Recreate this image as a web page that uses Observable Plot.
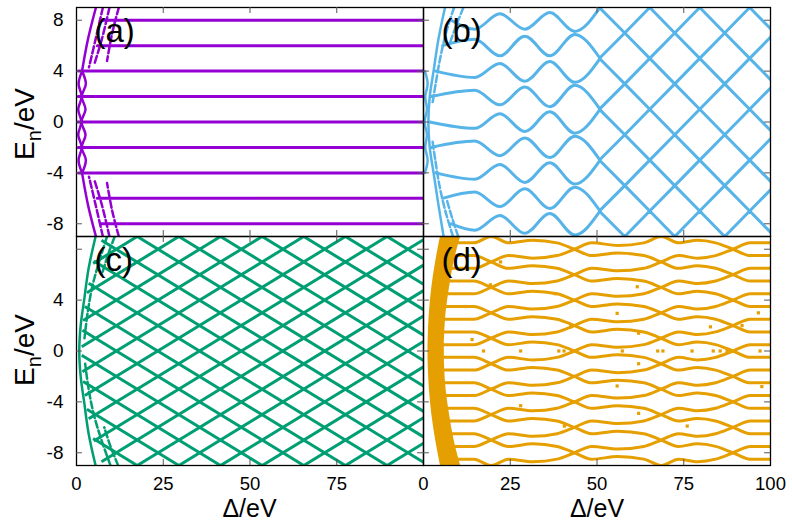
<!DOCTYPE html>
<html><head><meta charset="utf-8">
<script src="https://cdn.jsdelivr.net/npm/d3@7"></script>
<script src="https://cdn.jsdelivr.net/npm/@observablehq/plot@0.6"></script>
<style>
body{margin:0;background:#fff;}
#chart{width:792px;height:523px;}
</style></head><body><div id="chart"></div>
<script>
// ---------- colours ----------
const colors = {a:"#9400d3", b:"#56b4e9", c:"#009e73", d:"#e69f00"};
const P = {a:{fx:"L",fy:"T"}, b:{fx:"R",fy:"T"}, c:{fx:"L",fy:"B"}, d:{fx:"R",fy:"B"}};

// ---------- ticks ----------
const yTickMarks = [-8,-4,0,4,8];
const xTickMarks = [25,50,75];
const yTickLabelsTop = [8,4,0,-4,-8];
const yTickLabelsBottom = [4,0,-4,-8];
const xTickLabelsLeft = [0,25,50,75];
const xTickLabelsRight = [0,25,50,75,100];
const panelLabels = [["a","(a)"],["b","(b)"],["c","(c)"],["d","(d)"]];

// ---------- panel (a) ----------
const aLevels = [8,6,4,2,0,-2,-4,-6,-8];
const aStart  = [6.9,6.0,0.6,0.5,0.3,0.5,0.6,6.0,6.9];
const aEnd = 100;
const aArcsSolid = [
  [[5.6,9],[3.3,6.5],[1.6,4]],
  [[1.6,-4],[3.3,-6.5],[5.6,-9]],
  [[1.6,4],[0.6,3],[1.5,2],[0.5,1],[1.4,0],[0.5,-1],[1.5,-2],[0.6,-3],[1.6,-4]],
  [[1.6,4],[2.7,3],[1.5,2],[2.6,1],[1.4,0],[2.6,-1],[1.5,-2],[2.7,-3],[1.6,-4]]
];
const aArcsDashed = [
  [[7.6,9],[5.5,6.5],[3.6,4.3]],
  [[9.5,9],[7.3,6.5],[5.2,4.6]],
  [[12.2,9],[10.3,7],[8.8,4.8]],
  [[7.6,-9],[5.5,-6.5],[3.6,-4.3]],
  [[9.5,-9],[7.3,-6.5],[5.2,-4.6]],
  [[12.2,-9],[10.3,-7],[8.8,-4.8]]
];

// ---------- panel (b) ----------
const bStartDelta = [8,5.5,3.5,2.2,1.8,2.2,3.5,5.5,8];
const bKnots = [14.8,22,29.2,36.4,43.6,50.8];
const bWavy = [
  [8.0, 7.3, 8.5, 7.3, 8.6, 7.12, 8.97],
  [6.0, 6.5, 5.2, 6.75, 5.2, 6.88, 5.03],
  [4.0, 3.5, 4.6, 3.2, 4.75, 3.12, 4.97],
  [2.0, 2.5, 1.35, 2.75, 1.2, 2.88, 1.03],
  [0.0,-0.5, 0.65,-0.75, 0.8,-0.88, 0.97],
  [-2.0,-1.5,-2.65,-1.25,-2.8,-1.12,-2.97],
  [-4.0,-4.5,-3.35,-4.75,-3.2,-4.88,-3.03],
  [-6.0,-5.5,-6.65,-5.25,-6.8,-5.12,-6.97],
  [-8.0,-8.5,-7.35,-8.75,-7.2,-8.88,-7.03]
];
const bLatKnots = [50.8,58,65.2,72.4,79.6,86.8,94,101.2];
const bLattice = [
  [8.97,7,9,7,9,7,9,7],
  [5.03,7,5,7,5,7,5,7],
  [4.97,3,5,3,5,3,5,3],
  [1.03,3,1,3,1,3,1,3],
  [0.97,-1,1,-1,1,-1,1,-1],
  [-2.97,-1,-3,-1,-3,-1,-3,-1],
  [-3.03,-5,-3,-5,-3,-5,-3,-5],
  [-6.97,-5,-7,-5,-7,-5,-7,-5],
  [-7.03,-9,-7,-9,-7,-9,-7,-9]
];
const bArcsSolid = [
  [[6.2,9],[4.3,6.5],[2.9,4],[1.8,2],[1.4,0],[1.8,-2],[2.9,-4],[4.3,-6.5],[5.8,-9]],
  [[0.4,4],[1.2,3],[0.5,2],[1.0,1],[0.3,0],[1.0,-1],[0.5,-2],[1.2,-3],[0.4,-4]]
];
const bArcsDashed = [
  [[8.8,9],[6.5,7],[4.8,5],[3.5,3],[2.6,1.5]],
  [[8.5,-9],[6.3,-7],[4.6,-5],[3.4,-3],[2.6,-1.5]],
  [[11.5,9],[9.3,7.5],[7.6,6.2]],
  [[10,-9],[8.2,-7.5],[6.8,-6.2]]
];

// ---------- panel (c) : lattice segments [Δ1,E1,Δ2,E2] ----------
const cUp = [
  [17.5,-9,100,4.75],[29.5,-9,100,2.75],[41.5,-9,100,0.75],[53.5,-9,100,-1.25],
  [65.5,-9,100,-3.25],[77.5,-9,100,-5.25],[89.5,-9,100,-7.25],
  [7.2,-8.7,100,6.75],[5.0,-7.08,100,8.75],[3.5,-5.33,89.5,9],[2.4,-3.5,77.5,9],
  [1.7,-1.63,65.5,9],[1.5,0.33,53.5,9],[1.9,2.4,41.5,9],[3.0,4.58,29.5,9],[4.8,6.88,17.5,9]
];
const cDown = [
  [17.5,9,100,-4.75],[29.5,9,100,-2.75],[41.5,9,100,-0.75],[53.5,9,100,1.25],
  [65.5,9,100,3.25],[77.5,9,100,5.25],[89.5,9,100,7.25],
  [7.2,8.7,100,-6.75],[5.0,7.08,100,-8.75],[3.5,5.33,89.5,-9],[2.4,3.5,77.5,-9],
  [1.7,1.63,65.5,-9],[1.5,-0.33,53.5,-9],[1.9,-2.4,41.5,-9],[3.0,-4.58,29.5,-9],[4.8,-6.88,17.5,-9]
];
const cArcsSolid = [
  [[5.5,9],[3.5,6.5],[2.2,4],[1.2,2],[0.8,0],[1.2,-2],[2.2,-4],[3.5,-6.5],[5.5,-9]]
];
const cArcsDashed = [
  [[8.8,9],[6.5,7],[4.5,5],[3.2,3],[2.3,1]],
  [[9.8,-9],[7.2,-7],[5,-5],[3.5,-3],[2.5,-1]],
  [[11,9],[9,7.5],[7.3,6]],
  [[12,-9],[9.8,-7.5],[8,-6]]
];

// ---------- panel (d) ----------
const dKnots = [5,14.5,19.5,24.5,31.5,38.5,43.5,48.5,56,63.5,68.5,73.5,79,84.2,89.2,94.2,100];
const dStrands = [
  [7.5,7.5,7,6.5,6.7,6.5,6,5.5,5.7,5.5,5,4.5,4.7,4.5,4,3.5,3.5],
  [5.5,5.5,5,4.5,4.7,4.5,4,3.5,3.7,3.5,3,2.5,2.7,2.5,2,1.5,1.5],
  [3.5,3.5,3,2.5,2.7,2.5,2,1.5,1.7,1.5,1,0.5,0.7,0.5,0,-0.5,-0.5],
  [1.5,1.5,1,0.5,0.7,0.5,0,-0.5,-0.3,-0.5,-1,-1.5,-1.3,-1.5,-2,-2.5,-2.5],
  [-0.5,-0.5,-1,-1.5,-1.3,-1.5,-2,-2.5,-2.3,-2.5,-3,-3.5,-3.3,-3.5,-4,-4.5,-4.5],
  [-2.5,-2.5,-3,-3.5,-3.3,-3.5,-4,-4.5,-4.3,-4.5,-5,-5.5,-5.3,-5.5,-6,-6.5,-6.5],
  [-4.5,-4.5,-5,-5.5,-5.3,-5.5,-6,-6.5,-6.3,-6.5,-7,-7.5,-7.3,-7.5,-8,-8.5,-8.5],
  [-6.5,-6.5,-7,-7.5,-7.3,-7.5,-8,-8.5,-8.3,-8.5,-9,-8.5,-8.7,-8.5,-8,-7.5,-7.5],
  [-8.5,-8.5,-9,-8.5,-8.7,-8.5,-8,-7.5,-7.7,-7.5,-7,-6.5,-6.7,-6.5,-6,-5.5,-5.5],
  [8.5,8.5,9,8.5,8.7,8.5,8,7.5,7.7,7.5,7,6.5,6.7,6.5,6,5.5,5.5],
  [6.5,6.5,7,7.5,7.3,7.5,8,8.5,8.3,8.5,9,8.5,8.7,8.5,8,7.5,7.5],
  [4.5,4.5,5,5.5,5.3,5.5,6,6.5,6.3,6.5,7,7.5,7.3,7.5,8,8.5,8.5],
  [2.5,2.5,3,3.5,3.3,3.5,4,4.5,4.3,4.5,5,5.5,5.3,5.5,6,6.5,6.5],
  [0.5,0.5,1,1.5,1.3,1.5,2,2.5,2.3,2.5,3,3.5,3.3,3.5,4,4.5,4.5],
  [-1.5,-1.5,-1,-0.5,-0.7,-0.5,0,0.5,0.3,0.5,1,1.5,1.3,1.5,2,2.5,2.5],
  [-3.5,-3.5,-3,-2.5,-2.7,-2.5,-2,-1.5,-1.7,-1.5,-1,-0.5,-0.7,-0.5,0,0.5,0.5],
  [-5.5,-5.5,-5,-4.5,-4.7,-4.5,-4,-3.5,-3.7,-3.5,-3,-2.5,-2.7,-2.5,-2,-1.5,-1.5],
  [-7.5,-7.5,-7,-6.5,-6.7,-6.5,-6,-5.5,-5.7,-5.5,-5,-4.5,-4.7,-4.5,-4,-3.5,-3.5]
];
const dBandE     = [9,7,5,3,1,0,-1,-3,-5,-7,-9];
const dBandInner = [4.9,3.5,2.4,1.7,1.35,1.3,1.35,1.7,2.4,3.5,4.9];
const dBandOuter = [10.7,8.8,7.5,6.5,6.05,6,6.05,6.5,7.5,8.8,10.7];
const dSpecks = [
  [17.3,0],[28,0],[39,0],[40.5,0],[57.3,0],[67.5,0],[69,0],[77.4,0],[83.5,0],[85.5,0],[87.5,0],[97,0],
  [61.6,5.05],[55.8,2.96],[62,1.4],[62,-1.0],[55.8,-2.75],[62,-4.9],[96.5,3],[97.5,-2.8],
  [91.8,2.0],[82.7,1.9],[76,-5.9],[14,0.9],[19.3,5.2],[22.2,7.0],[42.4,1.9],[38,4.5],[28,-4.3],[40.6,-5.9]
];

// ---------- build tables ----------
function polyRows(panel, polys, tag) {
  const out = [];
  polys.forEach((pts, i) => pts.forEach(([x, y]) =>
    out.push({fx: P[panel].fx, fy: P[panel].fy, g: panel + tag + i, x, y})));
  return out;
}
const aLevelRows = polyRows("a", aLevels.map((e, i) => [[aStart[i], e], [aEnd, e]]), "lv");
const aSolidRows = polyRows("a", aArcsSolid, "s");
const aDashRows = polyRows("a", aArcsDashed, "d");
const bWavyRows = polyRows("b", bWavy.map((v, i) => [[bStartDelta[i], v[0]], ...bKnots.map((k, j) => [k, v[j + 1]])]), "w");
const bLatRows = polyRows("b", bLattice.map(v => bLatKnots.map((k, j) => [k, v[j]])), "l");
const bSolidRows = polyRows("b", bArcsSolid, "s");
const bDashRows = polyRows("b", bArcsDashed, "d");
const cSeg = [...cUp, ...cDown].map(([x1, y1, x2, y2]) => ({fx: "L", fy: "B", x1, y1, x2, y2}));
const cSolidRows = polyRows("c", cArcsSolid, "s");
const cDashRows = polyRows("c", cArcsDashed, "d");
const dStrandRows = polyRows("d", dStrands.map(v => dKnots.map((k, j) => [k, v[j]])), "st");
const dBand = dBandE.map((e, i) => ({fx: "R", fy: "B", y: e, x1: dBandInner[i], x2: dBandOuter[i]}));
const dSpeckRows = dSpecks.map(([x, y]) => ({fx: "R", fy: "B", x, y}));

const LW = 3;
const font = "Liberation Sans, Arial, Helvetica, sans-serif";
const fxF = d => d.fx, fyF = d => d.fy;

const svg = Plot.plot({
  width: 792, height: 523,
  marginLeft: 76, marginRight: 22, marginTop: 7, marginBottom: 58,
  style: {fontFamily: font, background: "white", color: "black"},
  x: {domain: [0, 100], axis: null},
  y: {domain: [-9, 9], axis: null},
  fx: {domain: ["L", "R"], padding: 0, axis: null},
  fy: {domain: ["T", "B"], padding: 0, axis: null},
  marks: [
    // panel a
    Plot.line(aLevelRows, {x: "x", y: "y", z: "g", fx: fxF, fy: fyF, stroke: colors.a, strokeWidth: LW, clip: true}),
    Plot.line(aSolidRows, {x: "x", y: "y", z: "g", fx: fxF, fy: fyF, stroke: colors.a, strokeWidth: 2.5, curve: "catmull-rom", clip: true}),
    Plot.line(aDashRows, {x: "x", y: "y", z: "g", fx: fxF, fy: fyF, stroke: colors.a, strokeWidth: 2.5, strokeDasharray: "7,3", curve: "catmull-rom", clip: true}),
    // panel b
    Plot.line(bWavyRows, {x: "x", y: "y", z: "g", fx: fxF, fy: fyF, stroke: colors.b, strokeWidth: LW, curve: "monotone-x", clip: true}),
    Plot.line(bLatRows, {x: "x", y: "y", z: "g", fx: fxF, fy: fyF, stroke: colors.b, strokeWidth: LW, clip: true}),
    Plot.line(bSolidRows, {x: "x", y: "y", z: "g", fx: fxF, fy: fyF, stroke: colors.b, strokeWidth: 2.5, curve: "catmull-rom", clip: true}),
    Plot.line(bDashRows, {x: "x", y: "y", z: "g", fx: fxF, fy: fyF, stroke: colors.b, strokeWidth: 2.5, strokeDasharray: "7,3", curve: "catmull-rom", clip: true}),
    // panel c
    Plot.link(cSeg, {x1: "x1", y1: "y1", x2: "x2", y2: "y2", fx: fxF, fy: fyF, stroke: colors.c, strokeWidth: LW, clip: true}),
    Plot.line(cSolidRows, {x: "x", y: "y", z: "g", fx: fxF, fy: fyF, stroke: colors.c, strokeWidth: 2.5, curve: "catmull-rom", clip: true}),
    Plot.line(cDashRows, {x: "x", y: "y", z: "g", fx: fxF, fy: fyF, stroke: colors.c, strokeWidth: 2.5, strokeDasharray: "7,3", curve: "catmull-rom", clip: true}),
    // panel d
    Plot.line(dStrandRows, {x: "x", y: "y", z: "g", fx: fxF, fy: fyF, stroke: colors.d, strokeWidth: LW, curve: "monotone-x", clip: true}),
    Plot.areaX(dBand, {y: "y", x1: "x1", x2: "x2", fx: fxF, fy: fyF, fill: colors.d, curve: "catmull-rom", clip: true}),
    Plot.dot(dSpeckRows, {x: "x", y: "y", fx: fxF, fy: fyF, fill: colors.d, symbol: "square", r: 1.8, clip: true}),
    // frame & inward ticks
    Plot.frame({stroke: "black", strokeWidth: 1.3}),
    Plot.ruleY(yTickMarks, {y: d => d, x1: 0, x2: 1.7, stroke: "#555", strokeWidth: 1}),
    Plot.ruleY(yTickMarks, {y: d => d, x1: 98.3, x2: 100, stroke: "#555", strokeWidth: 1}),
    Plot.ruleX(xTickMarks, {x: d => d, y1: -9, y2: -8.53, stroke: "#555", strokeWidth: 1}),
    Plot.ruleX(xTickMarks, {x: d => d, y1: 9, y2: 8.53, stroke: "#555", strokeWidth: 1}),
    // tick labels
    Plot.text(yTickLabelsTop, {y: d => d, x: 0, fx: () => "L", fy: () => "T", text: d => String(d), textAnchor: "end", dx: -13, fontSize: 19, fill: "black"}),
    Plot.text(yTickLabelsBottom, {y: d => d, x: 0, fx: () => "L", fy: () => "B", text: d => String(d), textAnchor: "end", dx: -13, fontSize: 19, fill: "black"}),
    Plot.text(xTickLabelsLeft, {x: d => d, y: -9, fx: () => "L", fy: () => "B", text: d => String(d), dy: 19, fontSize: 18.5, fill: "black"}),
    Plot.text(xTickLabelsRight, {x: d => d, y: -9, fx: () => "R", fy: () => "B", text: d => String(d), dy: 19, fontSize: 18.5, fill: "black"}),
    // panel labels
    Plot.text(panelLabels, {fx: d => P[d[0]].fx, fy: d => P[d[0]].fy, text: d => d[1], frameAnchor: "top-left", textAnchor: "start", lineAnchor: "top", dx: 18, dy: 11, fontSize: 33, fill: "black"})
  ]
});
document.getElementById("chart").append(svg);

// axis titles
const s = d3.select(svg);
function yTitle(cy) {
  const t = s.append("text").attr("transform", `translate(34,${cy}) rotate(-90)`)
    .attr("text-anchor", "middle").attr("font-family", font).attr("font-size", 28).attr("fill", "black");
  t.append("tspan").text("E");
  t.append("tspan").text("n").attr("font-size", 20).attr("dy", 7);
  t.append("tspan").text("/eV").attr("dy", -7);
}
yTitle(124);
yTitle(350);
[249.5, 597].forEach(cx => s.append("text").attr("x", cx).attr("y", 517).attr("text-anchor", "middle")
  .attr("font-family", font).attr("font-size", 25).attr("fill", "black").text("Δ/eV"));
</script></body></html>
